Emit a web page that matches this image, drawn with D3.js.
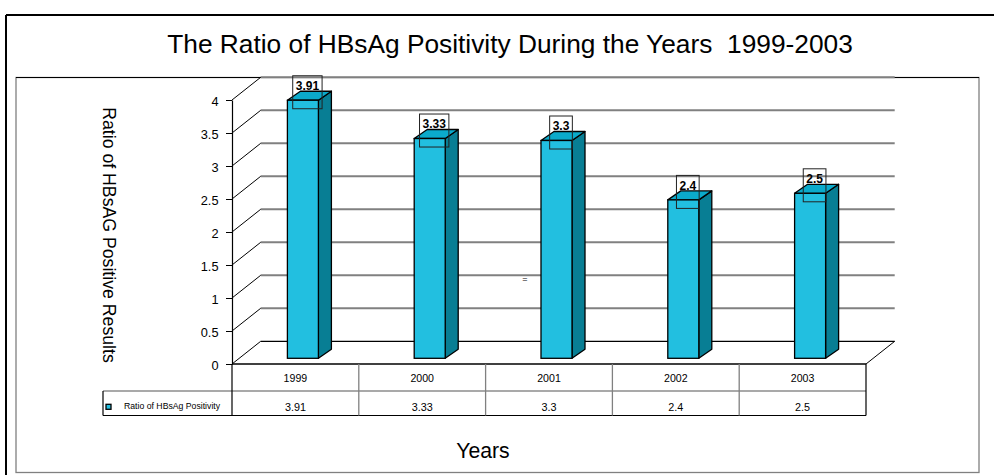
<!DOCTYPE html>
<html>
<head>
<meta charset="utf-8">
<script src="https://cdn.jsdelivr.net/npm/d3@7"></script>
<style>
  html, body { margin: 0; padding: 0; background: #fff; }
  svg { display: block; }
  text { font-family: "Liberation Sans", Arial, sans-serif; white-space: pre; }
</style>
</head>
<body>
<svg id="chart" width="994" height="475"></svg>
<script>
// ---- data ----
const years = ["1999", "2000", "2001", "2002", "2003"];
const values = [3.91, 3.33, 3.3, 2.4, 2.5];
const yTicks = [0, 0.5, 1, 1.5, 2, 2.5, 3, 3.5, 4];
const seriesName = "Ratio of HBsAg Positivity";
const titleText = "The Ratio of HBsAg Positivity During the Years  1999-2003";
const yTitle = "Ratio of HBsAG Positive Results";
const xTitle = "Years";

// ---- colours ----
const cFront = "#22BFE0", cTop = "#0BAACB", cSide = "#087E94";

const svg = d3.select("#chart");

// frames
svg.append("line").attr("x1", 6).attr("y1", 15).attr("x2", 994).attr("y2", 15).attr("stroke", "#000").attr("stroke-width", 2);
svg.append("line").attr("x1", 6).attr("y1", 15).attr("x2", 6).attr("y2", 475).attr("stroke", "#000").attr("stroke-width", 2);
svg.append("rect").attr("x", 16).attr("y", 77.5).attr("width", 963).attr("height", 395)
  .attr("fill", "none").attr("stroke", "#808080").attr("stroke-width", 1.3);
svg.append("line").attr("x1", 16).attr("y1", 77.5).attr("x2", 979).attr("y2", 77.5).attr("stroke", "#000").attr("stroke-width", 1);

// title
svg.append("text").attr("x", 510).attr("y", 53).attr("text-anchor", "middle")
  .attr("xml:space", "preserve")
  .style("font-size", "26.3px").text(titleText);

// scales
const x = d3.scaleBand().domain(years).range([232, 866]);
const y = d3.scaleLinear().domain([0, 4]).range([364, 100]);

const wallDx = 28.7, wallDy = 22.7;
const barShiftX = 7.5, barShiftY = 5.7;
const barW = 31, barDx = 13, barDy = 9;

// back wall gridlines
svg.append("g").selectAll("line").data(yTicks).join("line")
  .attr("x1", 232 + wallDx).attr("x2", 866 + wallDx)
  .attr("y1", d => y(d) - wallDy).attr("y2", d => y(d) - wallDy)
  .attr("stroke", d => d === 0 ? "#000" : "#808080")
  .attr("stroke-width", d => d === 0 ? 1.2 : 2);

// left wall diagonals
svg.append("g").selectAll("line").data(yTicks).join("line")
  .attr("x1", 232).attr("y1", d => y(d))
  .attr("x2", 232 + wallDx).attr("y2", d => y(d) - wallDy)
  .attr("stroke", "#000").attr("stroke-width", 1);

// floor right edge
svg.append("line").attr("x1", 866).attr("y1", y(0)).attr("x2", 866 + wallDx).attr("y2", y(0) - wallDy)
  .attr("stroke", "#000").attr("stroke-width", 1);

// y axis
const yAxis = svg.append("g").attr("transform", "translate(232,0)")
  .call(d3.axisLeft(y).tickValues(yTicks).tickSize(6).tickSizeOuter(0).tickPadding(7.5)
    .tickFormat(d => String(d)));
yAxis.select(".domain").attr("stroke", "#000").attr("stroke-width", 1.2);
yAxis.selectAll(".tick line").attr("stroke", "#000").attr("stroke-width", 1);
yAxis.selectAll(".tick text").attr("fill", "#000").attr("dy", "0.4em")
  .style("font-size", "12.8px").style("font-family", '"Liberation Sans", Arial, sans-serif');

// y title
svg.append("text").attr("transform", "translate(103,235) rotate(90)")
  .attr("text-anchor", "middle").style("font-size", "17.7px").text(yTitle);

// stray glyph
svg.append("text").attr("x", 524.8).attr("y", 281.5).attr("text-anchor", "middle")
  .style("font-size", "9px").text("=");

// bars
const data = years.map((yr, i) => ({ year: yr, value: values[i] }));
const bars = svg.append("g").selectAll("g").data(data).join("g");
const fx = d => x(d.year) + x.bandwidth() / 2 + barShiftX - barW / 2;
const bot = y(0) - barShiftY;
const tp = d => y(d.value) - barShiftY;

bars.append("polygon")
  .attr("points", d => {
    const x1 = fx(d) + barW, t = tp(d);
    return [[x1, bot], [x1, t], [x1 + barDx, t - barDy], [x1 + barDx, bot - barDy]].join(" ");
  })
  .attr("fill", cSide).attr("stroke", "#000").attr("stroke-width", 1.3).attr("stroke-linejoin", "round");
bars.append("polygon")
  .attr("points", d => {
    const x0 = fx(d), t = tp(d);
    return [[x0, t], [x0 + barW, t], [x0 + barW + barDx, t - barDy], [x0 + barDx, t - barDy]].join(" ");
  })
  .attr("fill", cTop).attr("stroke", "#000").attr("stroke-width", 1.3).attr("stroke-linejoin", "round");
bars.append("rect")
  .attr("x", fx).attr("y", tp).attr("width", barW).attr("height", d => bot - tp(d))
  .attr("fill", cFront).attr("stroke", "#000").attr("stroke-width", 1.3);

// value labels
bars.each(function (d) {
  const g = d3.select(this);
  const cx = fx(d) + barW / 2 + 4.5;
  const t = tp(d);
  const txt = g.append("text").attr("x", cx).attr("y", t - 10.4).attr("text-anchor", "middle")
    .style("font-size", "12px").style("font-weight", "bold").text(String(d.value));
  const w = txt.node().getComputedTextLength() + 6;
  g.insert("rect", "text").attr("x", cx - w / 2).attr("y", t - 24.5).attr("width", w).attr("height", 33)
    .attr("fill", "none").attr("stroke", "#222").attr("stroke-width", 1);
});

// data table
const tb = svg.append("g");
const tTop = 364, tMid = 391, tBot = 415.5;
tb.append("line").attr("x1", 232).attr("x2", 866).attr("y1", tTop).attr("y2", tTop).attr("stroke", "#000").attr("stroke-width", 1.3);
tb.append("line").attr("x1", 103).attr("x2", 866).attr("y1", tMid).attr("y2", tMid).attr("stroke", "#555").attr("stroke-width", 1.2);
tb.append("line").attr("x1", 103).attr("x2", 866).attr("y1", tBot).attr("y2", tBot).attr("stroke", "#000").attr("stroke-width", 1.2);
tb.append("line").attr("x1", 103).attr("x2", 103).attr("y1", tMid).attr("y2", tBot).attr("stroke", "#000").attr("stroke-width", 1.2);
tb.append("line").attr("x1", 232).attr("x2", 232).attr("y1", tTop).attr("y2", tBot).attr("stroke", "#000").attr("stroke-width", 1.2);
tb.append("line").attr("x1", 866).attr("x2", 866).attr("y1", tTop).attr("y2", tBot).attr("stroke", "#000").attr("stroke-width", 1.2);
tb.selectAll(".div").data(years.slice(1)).join("line").attr("class", "div")
  .attr("x1", d => x(d)).attr("x2", d => x(d)).attr("y1", tTop).attr("y2", tBot)
  .attr("stroke", "#808080").attr("stroke-width", 1.3);
tb.selectAll(".cat").data(years).join("text").attr("class", "cat")
  .attr("x", d => x(d) + x.bandwidth() / 2).attr("y", 382.3).attr("text-anchor", "middle")
  .style("font-size", "10.6px").text(d => d);
tb.selectAll(".val").data(data).join("text").attr("class", "val")
  .attr("x", d => x(d.year) + x.bandwidth() / 2).attr("y", 410.5).attr("text-anchor", "middle")
  .style("font-size", "10.8px").text(d => String(d.value));
// legend key
tb.append("rect").attr("x", 106).attr("y", 404.3).attr("width", 5).attr("height", 5)
  .attr("fill", cFront).attr("stroke", "#000").attr("stroke-width", 1.3);
tb.append("text").attr("x", 124).attr("y", 409.3).style("font-size", "8.7px").text(seriesName);

// x title
svg.append("text").attr("x", 483).attr("y", 457.5).attr("text-anchor", "middle")
  .style("font-size", "21.2px").text(xTitle);
</script>
</body>
</html>
